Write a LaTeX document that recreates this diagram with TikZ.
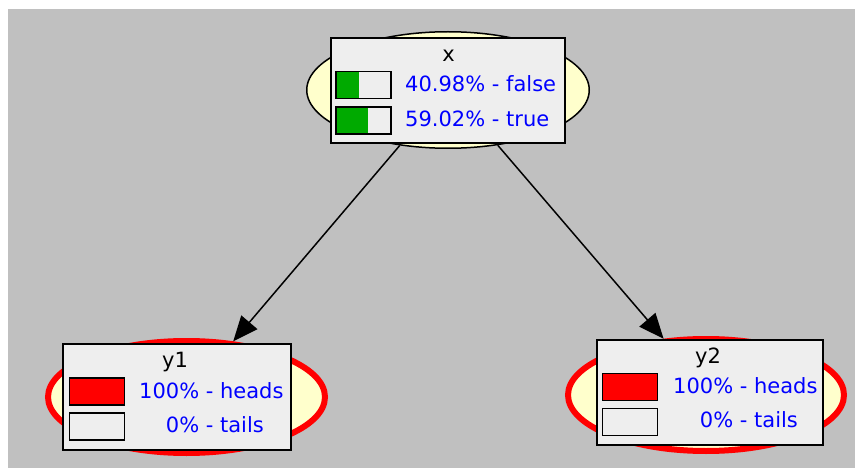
\documentclass[tikz,border=0pt]{standalone}
\usepackage{fontspec}
\setmainfont{DejaVu Sans}
\usepackage{xcolor}
\usetikzlibrary{shapes.geometric,arrows.meta}
\definecolor{netgray}{HTML}{C0C0C0}
\definecolor{cardgray}{HTML}{EEEEEE}
\definecolor{paleyellow}{HTML}{FFFFCC}
\definecolor{bargreen}{HTML}{00AA00}
\definecolor{probblue}{HTML}{0000FF}
\begin{document}
\begin{tikzpicture}[x=1pt,y=-1pt,every node/.style={inner sep=0pt,font=\fontsize{21}{25}\selectfont},
  blob/.style={shape=ellipse,fill=paleyellow,draw=black,line width=1.5pt},
  evidence/.style={blob,draw=red,line width=6pt},
  card/.style={shape=rectangle,fill=cardgray,draw=black,line width=1.5pt},
  bar/.style={shape=rectangle,fill=cardgray,draw=black,line width=1.5pt,minimum width=55pt,minimum height=27pt},
  barfill/.style 2 args={path picture={\fill[#1] (path picture bounding box.south west) rectangle ([xshift=#2*55pt]path picture bounding box.north west);}},
  prob/.style={anchor=base west,text=probblue},
  link/.style={line width=1.5pt,-{Triangle[length=25pt,width=21pt]}}]
      \useasboundingbox (0,0) rectangle (855,468);
      \fill[netgray] (8,9) rectangle (855,468);
      % x
      \node[blob,minimum width=282.5pt,minimum height=116.5pt] (xblob) at (448,90) {};
      \node[card,minimum width=234pt,minimum height=105pt] (xcard) at (448,90.5) {};
      \node[anchor=base] (xname) at (448.5,62) {x};
      \node[bar,barfill={bargreen}{0.4098}] (xfalse) at (363.5,85) {};
      \node[bar,barfill={bargreen}{0.5902}] (xtrue) at (363.5,120.5) {};
      \node[prob] (xfalsetext) at (405,92) {40.98\% - false};
      \node[prob] (xtruetext) at (405,127) {59.02\% - true};
      % y1
      \node[evidence,minimum width=277pt,minimum height=112pt] (yoneblob) at (186.5,397) {};
      \node[card,minimum width=228pt,minimum height=106pt] (yonecard) at (177,397) {};
      \node[anchor=base] (yonename) at (175,367.5) {y1};
      \node[bar,fill=red] (yoneheads) at (97,391.5) {};
      \node[bar] (yonetails) at (97,426.5) {};
      \node[prob] (yoneheadstext) at (139,398) {100\% - heads};
      \node[prob] (yonetailstext) at (139,432) {\phantom{10}0\% - tails};
      % y2
      \node[evidence,minimum width=276pt,minimum height=112pt] (ytwoblob) at (706,395) {};
      \node[card,minimum width=226pt,minimum height=105pt] (ytwocard) at (710,392.5) {};
      \node[anchor=base] (ytwoname) at (708,363) {y2};
      \node[bar,fill=red] (ytwoheads) at (630,387) {};
      \node[bar] (ytwotails) at (630,422) {};
      \node[prob] (ytwoheadstext) at (673,393) {100\% - heads};
      \node[prob] (ytwotailstext) at (673,427) {\phantom{10}0\% - tails};
      % arcs
      \draw[link] (xblob.229) -- (yoneblob.50);
      \draw[link] (xblob.312) -- (ytwoblob.127);
\end{tikzpicture}
\end{document}
